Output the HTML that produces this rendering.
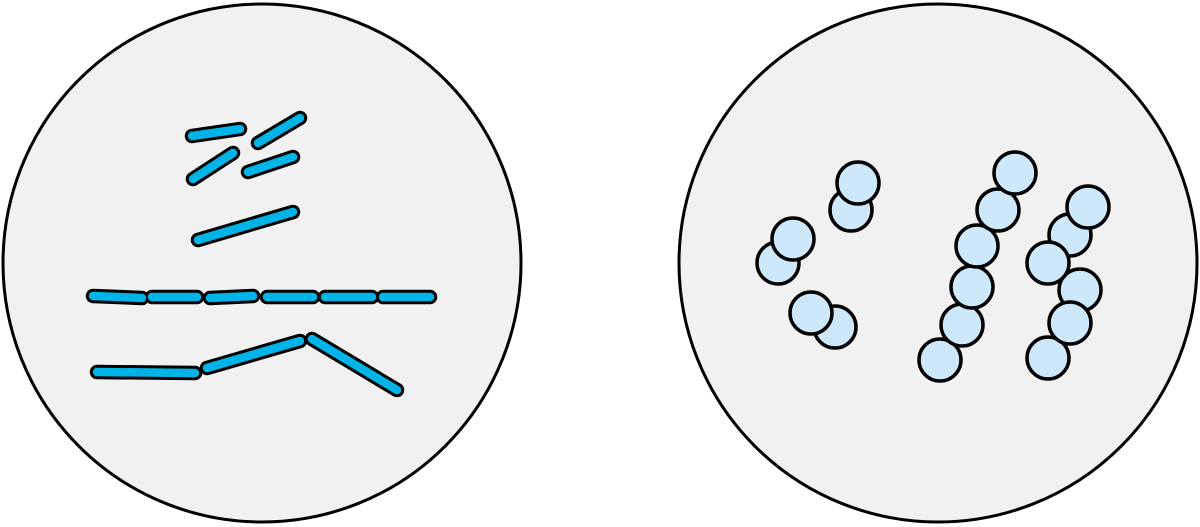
<!DOCTYPE html>
<html><head><style>html,body{margin:0;padding:0;background:#fff}svg{display:block}</style></head><body>
<svg width="1200" height="527" viewBox="0 0 1200 527">
<circle cx="262" cy="263" r="259" fill="#f1f1f1" stroke="#000" stroke-width="3"/>
<circle cx="938" cy="263" r="259" fill="#f1f1f1" stroke="#000" stroke-width="3"/>
<g stroke-linecap="round">
<g stroke="#000" stroke-width="14.5">
<line x1="192" y1="136" x2="240" y2="129"/><line x1="258" y1="143" x2="300" y2="118"/>
<line x1="193" y1="179" x2="233" y2="153"/><line x1="248" y1="172" x2="293" y2="157"/>
<line x1="198" y1="240" x2="293" y2="212"/>
<line x1="93" y1="296" x2="142" y2="298"/><line x1="152" y1="297" x2="197" y2="297"/>
<line x1="210" y1="298" x2="253" y2="296"/><line x1="267" y1="297" x2="313" y2="297"/>
<line x1="325" y1="297" x2="372" y2="297"/><line x1="383" y1="297" x2="430" y2="297"/>
<line x1="97" y1="372" x2="195" y2="373"/><line x1="207" y1="368" x2="300" y2="341"/>
<line x1="312" y1="339" x2="397" y2="390"/>
</g>
<g stroke="#00b4e8" stroke-width="8.5">
<line x1="192" y1="136" x2="240" y2="129"/><line x1="258" y1="143" x2="300" y2="118"/>
<line x1="193" y1="179" x2="233" y2="153"/><line x1="248" y1="172" x2="293" y2="157"/>
<line x1="198" y1="240" x2="293" y2="212"/>
<line x1="93" y1="296" x2="142" y2="298"/><line x1="152" y1="297" x2="197" y2="297"/>
<line x1="210" y1="298" x2="253" y2="296"/><line x1="267" y1="297" x2="313" y2="297"/>
<line x1="325" y1="297" x2="372" y2="297"/><line x1="383" y1="297" x2="430" y2="297"/>
<line x1="97" y1="372" x2="195" y2="373"/><line x1="207" y1="368" x2="300" y2="341"/>
<line x1="312" y1="339" x2="397" y2="390"/>
</g>
</g>
<g fill="#cce8fa" stroke="#000" stroke-width="3.5">
<circle cx="778" cy="263" r="21"/><circle cx="793" cy="239" r="21"/>
<circle cx="851" cy="210" r="21"/><circle cx="858" cy="183" r="21"/>
<circle cx="835" cy="327" r="21"/><circle cx="811" cy="313" r="21"/>
<circle cx="940" cy="360" r="21"/><circle cx="962" cy="325" r="21"/>
<circle cx="972" cy="287" r="21"/><circle cx="977" cy="246" r="21"/>
<circle cx="998" cy="210" r="21"/><circle cx="1015" cy="173" r="21"/>
<circle cx="1048" cy="358" r="21"/><circle cx="1080" cy="290" r="21"/>
<circle cx="1070" cy="323" r="21"/><circle cx="1070" cy="235" r="21"/>
<circle cx="1048" cy="263" r="21"/><circle cx="1088" cy="207" r="21"/>
</g>
</svg>
</body></html>
